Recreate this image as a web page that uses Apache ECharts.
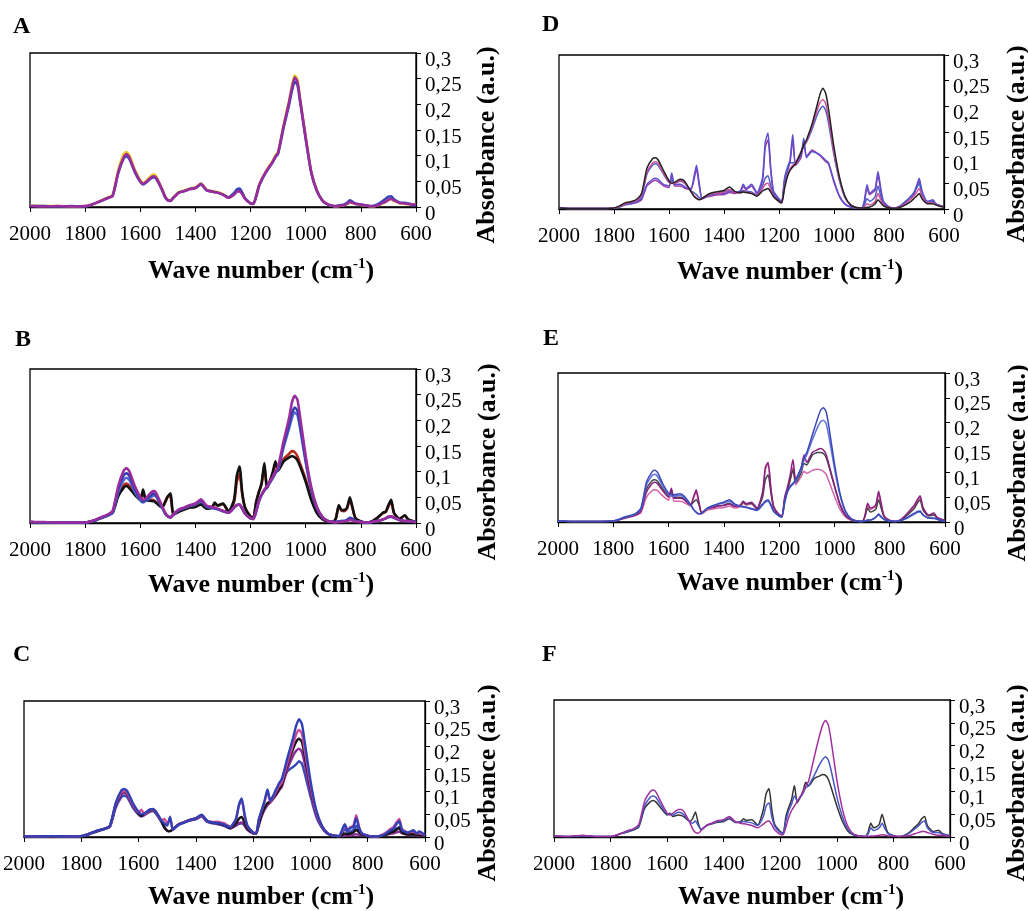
<!DOCTYPE html>
<html>
<head>
<meta charset="utf-8">
<script src="https://cdn.jsdelivr.net/npm/echarts@6/dist/echarts.min.js"></script>
<style>
  html, body { margin: 0; padding: 0; background: #fff; }
  #chart { width: 1028px; height: 911px; }
</style>
</head>
<body>
<div id="chart"></div>
<script>
// wave numbers (cm-1) shared by all spectra
const wn = [2000,1950,1900,1850,1800,1780,1760,1740,1720,1700,
  1680,1660,1650,1640,1620,1600,1590,1580,1560,1550,
  1540,1520,1510,1500,1490,1480,1460,1440,1420,1400,
  1380,1360,1340,1330,1320,1300,1280,1260,1250,1240,
  1230,1220,1200,1190,1180,1170,1160,1150,1140,1120,
  1110,1100,1080,1060,1050,1040,1030,1020,1000,980,
  960,940,920,900,890,880,870,860,850,840,
  830,820,800,780,760,740,720,710,700,690,
  680,660,640,630,620,600]

const yTicks = ['0', '0,05', '0,1', '0,15', '0,2', '0,25', '0,3']
const xTitle = 'Wave number (cm'
const yTitle = 'Absorbance (a.u.)'

// panel A
const aYellow = [.003,.002,.002,.001,.002,.004,.008,.013,.018,.024,
  .072,.103,.107,.101,.073,.052,.047,.050,.061,.063,
  .057,.034,.021,.014,.013,.019,.029,.032,.036,.038,
  .046,.034,.031,.030,.029,.025,.019,.025,.031,.032,
  .026,.017,.007,.006,.021,.041,.054,.064,.073,.090,
  .100,.108,.160,.208,.236,.256,.248,.210,.137,.069,
  .033,.013,.005,.002,.001,.002,.003,.004,.006,.009,
  .008,.006,.004,.003,.001,.003,.007,.010,.013,.015,
  .012,.008,.006,.005,.005,.006]
const aBlue = [.002,.002,.001,.002,.001,.004,.008,.012,.017,.022,
  .066,.095,.099,.094,.068,.049,.044,.047,.056,.058,
  .053,.032,.019,.013,.012,.018,.028,.031,.035,.037,
  .044,.033,.030,.029,.028,.024,.019,.027,.034,.036,
  .028,.017,.007,.006,.020,.040,.052,.062,.071,.087,
  .097,.104,.155,.200,.226,.244,.238,.204,.132,.067,
  .032,.013,.005,.002,.002,.003,.004,.005,.008,.013,
  .010,.007,.005,.003,.002,.005,.012,.016,.020,.021,
  .015,.009,.008,.007,.006,.003]
const aPurple = [.002,.001,.002,.001,.002,.004,.008,.013,.017,.022,
  .068,.097,.103,.097,.070,.050,.045,.048,.058,.060,
  .055,.033,.020,.013,.012,.018,.028,.031,.035,.037,
  .045,.033,.030,.029,.028,.024,.018,.024,.030,.031,
  .025,.016,.007,.006,.020,.040,.053,.063,.072,.088,
  .098,.106,.158,.205,.232,.252,.244,.208,.135,.068,
  .032,.013,.005,.002,.001,.002,.003,.004,.006,.010,
  .008,.006,.005,.003,.001,.003,.008,.010,.014,.016,
  .013,.008,.007,.006,.005,.005]

// panel B
const bBlack = [.002,.001,.001,.001,.001,.003,.006,.010,.014,.020,
  .052,.069,.072,.068,.055,.045,.065,.045,.043,.042,
  .038,.030,.040,.052,.058,.016,.022,.026,.030,.031,
  .036,.028,.030,.040,.034,.038,.022,.045,.092,.110,
  .058,.030,.012,.010,.040,.060,.078,.117,.068,.098,
  .120,.102,.120,.128,.130,.128,.122,.110,.080,.045,
  .020,.008,.003,.002,.010,.035,.025,.025,.030,.050,
  .030,.010,.003,.001,.003,.010,.020,.022,.035,.045,
  .020,.008,.015,.008,.005,.002]
const bRed = [.002,.001,.001,.001,.001,.003,.006,.010,.015,.021,
  .055,.074,.077,.073,.058,.046,.060,.046,.045,.044,
  .040,.031,.042,.052,.050,.016,.023,.027,.031,.032,
  .038,.029,.031,.038,.034,.037,.023,.040,.080,.095,
  .055,.030,.013,.011,.040,.060,.075,.110,.070,.095,
  .115,.103,.125,.135,.140,.138,.130,.115,.085,.048,
  .021,.008,.003,.002,.010,.032,.024,.023,.028,.046,
  .028,.010,.003,.001,.003,.010,.019,.021,.032,.042,
  .019,.008,.014,.008,.005,.002]
const bBlue2 = [.002,.001,.001,.001,.001,.003,.006,.010,.014,.020,
  .060,.084,.088,.084,.061,.044,.040,.043,.051,.053,
  .049,.029,.018,.013,.011,.016,.025,.029,.033,.036,
  .042,.032,.029,.028,.027,.023,.020,.030,.035,.036,
  .028,.018,.009,.008,.022,.042,.054,.063,.070,.087,
  .097,.104,.148,.185,.205,.215,.210,.183,.118,.064,
  .029,.011,.004,.002,.002,.003,.004,.004,.006,.009,
  .007,.004,.002,.001,.002,.004,.007,.009,.011,.012,
  .010,.006,.004,.004,.003,.002]
const bBlue = [.002,.001,.001,.001,.001,.003,.006,.011,.015,.022,
  .066,.093,.097,.092,.066,.047,.042,.045,.055,.057,
  .052,.030,.019,.013,.011,.017,.026,.030,.034,.037,
  .044,.033,.030,.029,.027,.023,.020,.030,.035,.036,
  .028,.018,.009,.008,.022,.042,.055,.064,.071,.088,
  .098,.106,.152,.192,.214,.225,.219,.190,.122,.066,
  .030,.012,.004,.002,.002,.003,.004,.004,.006,.010,
  .008,.004,.002,.001,.002,.004,.007,.009,.012,.013,
  .010,.006,.004,.004,.003,.002]
const bPurple = [.002,.002,.001,.001,.001,.003,.007,.012,.016,.024,
  .072,.102,.107,.101,.072,.051,.045,.048,.060,.062,
  .056,.032,.020,.013,.011,.017,.026,.030,.035,.038,
  .046,.034,.031,.030,.028,.024,.020,.030,.035,.036,
  .028,.018,.009,.008,.022,.042,.055,.065,.072,.090,
  .100,.110,.160,.205,.235,.248,.240,.205,.130,.070,
  .032,.012,.004,.002,.001,.002,.002,.003,.004,.006,
  .005,.003,.002,.001,.002,.004,.007,.009,.012,.013,
  .011,.006,.004,.004,.003,.002]

// panel C
const cBlue2 = [.002,.001,.002,.001,.002,.005,.009,.013,.017,.022,
  .064,.088,.091,.088,.065,.049,.045,.048,.056,.057,
  .052,.033,.021,.014,.013,.017,.027,.032,.036,.039,
  .045,.033,.030,.029,.028,.024,.019,.025,.029,.030,
  .025,.016,.008,.007,.028,.048,.062,.072,.080,.100,
  .112,.122,.145,.155,.160,.167,.162,.140,.090,.045,
  .020,.007,.003,.002,.006,.018,.010,.012,.015,.025,
  .014,.006,.002,.001,.002,.006,.012,.014,.018,.022,
  .012,.008,.010,.006,.008,.003]
const cPurple = [.002,.001,.002,.001,.002,.005,.010,.014,.018,.024,
  .068,.094,.097,.093,.069,.051,.046,.049,.058,.059,
  .054,.034,.021,.014,.013,.017,.028,.033,.037,.040,
  .047,.034,.031,.030,.029,.025,.019,.026,.030,.032,
  .026,.016,.008,.007,.026,.046,.060,.070,.076,.092,
  .102,.110,.150,.180,.190,.195,.188,.162,.100,.050,
  .022,.007,.003,.002,.002,.003,.004,.004,.005,.006,
  .005,.004,.002,.001,.002,.004,.007,.008,.010,.012,
  .008,.005,.005,.004,.004,.003]
const cBlack = [.002,.001,.002,.001,.002,.005,.010,.014,.018,.024,
  .070,.096,.100,.096,.071,.052,.047,.050,.059,.060,
  .055,.034,.022,.014,.013,.017,.028,.033,.038,.041,
  .048,.035,.032,.031,.030,.026,.020,.030,.040,.044,
  .032,.018,.009,.008,.030,.050,.065,.075,.078,.095,
  .105,.115,.160,.195,.210,.217,.210,.180,.110,.055,
  .024,.008,.003,.002,.004,.008,.006,.008,.010,.016,
  .010,.005,.002,.001,.002,.004,.010,.012,.016,.020,
  .010,.006,.006,.005,.005,.003]
const cPink = [.002,.001,.002,.001,.002,.005,.010,.015,.018,.024,
  .072,.098,.101,.097,.072,.054,.060,.050,.060,.061,
  .056,.036,.040,.030,.040,.016,.028,.033,.038,.041,
  .048,.035,.033,.034,.033,.030,.022,.040,.068,.082,
  .048,.024,.010,.008,.038,.058,.078,.100,.078,.100,
  .112,.120,.165,.205,.226,.236,.228,.192,.115,.056,
  .024,.008,.003,.002,.012,.025,.015,.022,.025,.048,
  .022,.008,.003,.001,.002,.008,.018,.022,.032,.040,
  .018,.010,.012,.008,.008,.004]
const cBlue = [.002,.001,.002,.001,.002,.005,.010,.015,.018,.025,
  .075,.103,.106,.102,.075,.055,.050,.052,.061,.062,
  .057,.036,.030,.025,.045,.016,.027,.032,.038,.041,
  .049,.035,.032,.031,.031,.027,.022,.040,.070,.085,
  .050,.025,.010,.008,.040,.060,.080,.105,.080,.105,
  .118,.128,.175,.220,.245,.260,.250,.210,.125,.060,
  .025,.008,.003,.002,.015,.028,.015,.020,.022,.042,
  .020,.008,.003,.001,.002,.006,.015,.018,.028,.035,
  .015,.010,.015,.008,.012,.004]

// panel D
const dPurple = [.002,.001,.001,.001,.002,.004,.008,.010,.012,.018,
  .045,.054,.056,.054,.045,.042,.065,.045,.045,.043,
  .040,.038,.055,.078,.045,.020,.024,.026,.028,.028,
  .032,.030,.034,.044,.038,.045,.030,.055,.120,.135,
  .075,.032,.018,.014,.055,.075,.090,.135,.085,.100,
  .130,.102,.115,.108,.104,.098,.092,.088,.052,.024,
  .009,.004,.002,.002,.012,.040,.028,.032,.037,.066,
  .036,.013,.004,.002,.005,.014,.023,.028,.042,.055,
  .032,.013,.016,.009,.007,.004]
const dViolet = [.002,.001,.001,.001,.002,.004,.008,.010,.013,.020,
  .048,.058,.060,.058,.048,.045,.070,.048,.048,.046,
  .042,.040,.060,.085,.050,.022,.026,.028,.030,.030,
  .035,.032,.036,.048,.040,.048,.032,.060,.130,.148,
  .080,.035,.020,.015,.060,.080,.095,.145,.090,.105,
  .138,.100,.112,.108,.105,.100,.095,.090,.055,.025,
  .010,.004,.002,.002,.015,.047,.030,.035,.040,.073,
  .040,.015,.004,.002,.006,.015,.025,.030,.045,.060,
  .035,.015,.018,.010,.008,.004]
const dBlue = [.002,.001,.001,.001,.002,.005,.009,.012,.015,.025,
  .068,.085,.088,.085,.068,.052,.055,.050,.054,.053,
  .048,.035,.032,.028,.022,.020,.027,.030,.031,.033,
  .038,.033,.032,.036,.035,.033,.027,.045,.060,.065,
  .045,.028,.015,.012,.048,.072,.090,.090,.090,.110,
  .122,.130,.155,.185,.195,.200,.192,.168,.105,.055,
  .022,.008,.003,.002,.008,.020,.015,.018,.025,.045,
  .025,.010,.003,.001,.005,.012,.025,.032,.040,.050,
  .028,.013,.015,.010,.008,.004]
const dPink = [.002,.001,.001,.001,.002,.005,.010,.013,.016,.027,
  .072,.089,.092,.089,.070,.052,.050,.050,.055,.054,
  .049,.034,.027,.022,.018,.020,.027,.030,.031,.033,
  .038,.032,.031,.034,.033,.031,.026,.040,.048,.050,
  .038,.025,.014,.012,.042,.065,.078,.085,.090,.112,
  .125,.132,.160,.195,.208,.213,.205,.178,.110,.058,
  .023,.008,.003,.002,.004,.010,.008,.010,.015,.030,
  .018,.008,.003,.001,.004,.010,.020,.025,.032,.040,
  .025,.012,.012,.009,.007,.004]
const dBlack = [.002,.001,.001,.001,.002,.006,.012,.014,.018,.030,
  .080,.098,.100,.096,.075,.055,.050,.052,.058,.057,
  .052,.034,.025,.020,.018,.020,.028,.032,.034,.036,
  .043,.034,.032,.033,.032,.030,.025,.035,.038,.040,
  .033,.024,.015,.012,.040,.062,.075,.082,.088,.110,
  .125,.135,.165,.205,.225,.235,.225,.195,.120,.062,
  .025,.008,.003,.002,.002,.003,.004,.006,.010,.018,
  .012,.006,.002,.001,.003,.008,.015,.020,.025,.030,
  .020,.010,.010,.008,.006,.004]

// panel E
const ePink = [.002,.001,.001,.001,.002,.004,.007,.010,.013,.019,
  .050,.063,.065,.063,.052,.044,.062,.042,.042,.041,
  .038,.032,.048,.060,.036,.016,.024,.026,.028,.029,
  .032,.028,.031,.038,.034,.036,.025,.055,.105,.118,
  .065,.028,.013,.010,.045,.062,.085,.110,.075,.092,
  .102,.098,.104,.106,.105,.102,.096,.082,.052,.026,
  .010,.004,.002,.001,.010,.034,.025,.028,.032,.056,
  .032,.011,.003,.001,.004,.013,.025,.032,.042,.050,
  .028,.013,.016,.009,.006,.003]
const eGray = [.002,.001,.001,.001,.002,.005,.008,.011,.015,.024,
  .066,.083,.085,.082,.066,.052,.062,.050,.050,.049,
  .045,.034,.040,.045,.035,.018,.027,.030,.033,.034,
  .038,.032,.034,.040,.036,.038,.027,.050,.085,.095,
  .060,.030,.014,.011,.045,.065,.085,.105,.080,.100,
  .118,.115,.135,.140,.140,.138,.130,.112,.072,.035,
  .013,.005,.002,.001,.010,.028,.020,.022,.026,.045,
  .026,.010,.003,.001,.004,.012,.022,.028,.038,.045,
  .025,.012,.014,.009,.006,.003]
const ePurple = [.002,.001,.001,.001,.002,.004,.008,.011,.014,.022,
  .060,.077,.080,.077,.062,.050,.068,.048,.048,.047,
  .043,.034,.050,.065,.040,.018,.027,.029,.032,.033,
  .036,.031,.034,.042,.037,.040,.028,.060,.110,.120,
  .070,.032,.015,.012,.050,.070,.095,.126,.085,.110,
  .135,.120,.140,.146,.148,.145,.136,.116,.074,.036,
  .014,.005,.002,.001,.012,.038,.028,.030,.035,.062,
  .035,.012,.003,.001,.005,.015,.028,.035,.045,.053,
  .030,.014,.018,.010,.007,.003]
const eBlue2 = [.002,.001,.001,.001,.002,.005,.009,.012,.016,.026,
  .074,.093,.096,.092,.071,.055,.052,.052,.054,.052,
  .048,.034,.025,.019,.016,.018,.027,.032,.036,.038,
  .042,.035,.031,.030,.029,.026,.023,.034,.040,.042,
  .033,.021,.012,.010,.038,.060,.070,.076,.083,.106,
  .125,.135,.165,.192,.202,.205,.198,.172,.108,.054,
  .020,.007,.002,.001,.002,.004,.004,.006,.010,.014,
  .009,.005,.002,.001,.003,.007,.013,.016,.019,.020,
  .014,.008,.007,.006,.004,.002]
const eBlue = [.002,.001,.001,.001,.002,.005,.010,.013,.017,.028,
  .080,.101,.104,.100,.076,.058,.055,.055,.057,.055,
  .050,.035,.026,.020,.016,.018,.028,.033,.037,.040,
  .045,.036,.032,.031,.030,.027,.024,.036,.042,.045,
  .035,.022,.012,.010,.040,.062,.072,.078,.085,.110,
  .130,.140,.175,.210,.225,.230,.222,.192,.118,.058,
  .022,.007,.002,.001,.002,.004,.004,.006,.010,.016,
  .010,.005,.002,.001,.003,.008,.015,.018,.021,.022,
  .015,.008,.008,.006,.004,.002]

// panel F
const fBlack = [.002,.001,.002,.001,.001,.004,.008,.011,.015,.022,
  .062,.077,.080,.077,.062,.048,.052,.045,.048,.047,
  .044,.034,.040,.055,.030,.016,.025,.029,.032,.034,
  .040,.032,.034,.040,.036,.038,.026,.060,.095,.106,
  .060,.028,.012,.009,.045,.065,.082,.113,.075,.100,
  .120,.112,.128,.134,.137,.135,.126,.108,.068,.034,
  .012,.004,.002,.001,.010,.030,.020,.022,.028,.050,
  .028,.010,.003,.001,.004,.012,.024,.030,.040,.045,
  .025,.012,.015,.009,.006,.003]
const fBlue = [.002,.001,.002,.001,.001,.004,.008,.012,.016,.024,
  .068,.087,.090,.087,.068,.050,.050,.048,.054,.053,
  .048,.034,.030,.035,.025,.016,.026,.030,.034,.036,
  .042,.033,.032,.034,.033,.031,.025,.045,.068,.075,
  .045,.024,.010,.008,.035,.058,.072,.090,.080,.095,
  .108,.112,.135,.160,.170,.176,.168,.145,.088,.044,
  .016,.005,.002,.001,.006,.020,.014,.016,.020,.030,
  .018,.008,.003,.001,.003,.010,.020,.025,.032,.035,
  .020,.010,.010,.007,.005,.003]
const fPurple = [.003,.001,.004,.001,.001,.004,.009,.014,.018,.028,
  .078,.099,.103,.099,.075,.052,.048,.052,.060,.060,
  .055,.032,.018,.010,.008,.014,.026,.031,.036,.038,
  .045,.034,.030,.029,.028,.025,.020,.028,.033,.035,
  .027,.016,.006,.005,.022,.043,.058,.068,.078,.098,
  .112,.122,.175,.225,.245,.255,.245,.210,.125,.060,
  .022,.006,.002,.001,.001,.002,.002,.003,.004,.005,
  .004,.003,.002,.001,.002,.004,.008,.010,.012,.012,
  .010,.006,.004,.004,.003,.002]

const panels = [
  { name: 'A', grid: { left: 30, top: 53, width: 386, height: 154 }, lw: 2.6,
    letter: [13, 27], xt: [261, 271], yt: [487, 145],
    lines: [[aYellow, '#e8c51a'], [aBlue, '#3346b8'], [aPurple, '#9a2c9e']] },
  { name: 'D', grid: { left: 559, top: 55, width: 385, height: 154 }, lw: 1.5,
    letter: [542, 25], xt: [790, 272], yt: [1017, 144],
    lines: [[dPurple, '#a03aa8'], [dViolet, '#5b4fd0'], [dBlue, '#4a5cc8'], [dPink, '#d0509a'], [dBlack, '#222222']] },
  { name: 'B', grid: { left: 30, top: 369, width: 386, height: 154 }, lw: 2.6,
    letter: [15, 340], xt: [261, 585], yt: [488, 462],
    lines: [[bRed, '#b82a1e'], [bBlack, '#111111'], [bBlue2, '#5868d0'], [bBlue, '#2f3fb0'], [bPurple, '#9a2c9e']] },
  { name: 'E', grid: { left: 558, top: 373, width: 387, height: 149 }, lw: 1.5,
    letter: [543, 339], xt: [790, 583], yt: [1018, 463],
    lines: [[ePink, '#d263a8'], [eGray, '#444444'], [ePurple, '#8a2080'], [eBlue2, '#6070d6'], [eBlue, '#3848b8']] },
  { name: 'C', grid: { left: 24, top: 701, width: 401, height: 136 }, lw: 2.4,
    letter: [13, 655], xt: [261, 897], yt: [488, 783],
    lines: [[cBlue2, '#3a4ab8'], [cPurple, '#8c2c9a'], [cBlack, '#151515'], [cPink, '#d04a9a'], [cBlue, '#3040b4']] },
  { name: 'F', grid: { left: 554, top: 700, width: 396, height: 137 }, lw: 1.5,
    letter: [542, 655], xt: [791, 897], yt: [1017, 783],
    lines: [[fBlack, '#333333'], [fBlue, '#4656c6'], [fPurple, '#a1309f']] }
]

const serif = '"Liberation Serif", "Times New Roman", serif'

function pts(vals) {
  return wn.map((w, i) => [w, vals[i]])
}

const chart = echarts.init(document.getElementById('chart'))

const grids = [], xAxes = [], yAxes = [], series = [], graphics = []
panels.forEach((p, k) => {
  grids.push(Object.assign({ show: true, borderColor: '#000', borderWidth: 1.3, backgroundColor: 'transparent' }, p.grid))
  xAxes.push({
    gridIndex: k, type: 'value', min: 600, max: 2000, interval: 200, inverse: true,
    axisLine: { show: true, onZero: false, lineStyle: { color: '#000', width: 1.3 } },
    axisTick: { show: true, length: 5, lineStyle: { color: '#000' } },
    axisLabel: { color: '#000', fontFamily: serif, fontSize: 21, margin: 17, formatter: v => String(v) },
    splitLine: { show: false }
  })
  yAxes.push({
    gridIndex: k, type: 'value', position: 'right', min: 0, max: 0.3, interval: 0.05,
    axisLine: { show: true, onZero: false, lineStyle: { color: '#000', width: 1.3 } },
    axisTick: { show: true, length: 5, lineStyle: { color: '#000' } },
    axisLabel: {
      color: '#000', fontFamily: serif, fontSize: 21, margin: 9,
      verticalAlign: 'top', lineHeight: 14,
      formatter: v => yTicks[Math.round(v / 0.05)]
    },
    splitLine: { show: false }
  })
  p.lines.forEach(([vals, color]) => {
    series.push({
      type: 'line', xAxisIndex: k, yAxisIndex: k, data: pts(vals),
      showSymbol: false, smooth: 0.2, lineStyle: { color: color, width: p.lw },
      itemStyle: { color: color }
    })
  })
  graphics.push({
    type: 'text', x: p.letter[0], y: p.letter[1],
    style: { text: p.name, font: 'bold 24px ' + serif, fill: '#000', align: 'left', verticalAlign: 'middle' }
  })
  graphics.push({
    type: 'text', x: p.xt[0], y: p.xt[1],
    style: {
      text: '{a|' + xTitle + '}{s|-1}{a|)}', align: 'center', verticalAlign: 'middle',
      rich: {
        a: { font: 'bold 26px ' + serif, fill: '#000', lineHeight: 28 },
        s: { font: 'bold 15px ' + serif, fill: '#000', verticalAlign: 'top', lineHeight: 28 }
      }
    }
  })
  graphics.push({
    type: 'text', x: p.yt[0], y: p.yt[1], rotation: Math.PI / 2,
    style: { text: yTitle, font: 'bold 26px ' + serif, fill: '#000', align: 'center', verticalAlign: 'middle' }
  })
})

chart.setOption({
  animation: false,
  backgroundColor: '#fff',
  grid: grids,
  xAxis: xAxes,
  yAxis: yAxes,
  series: series,
  graphic: graphics
})
</script>
</body>
</html>
